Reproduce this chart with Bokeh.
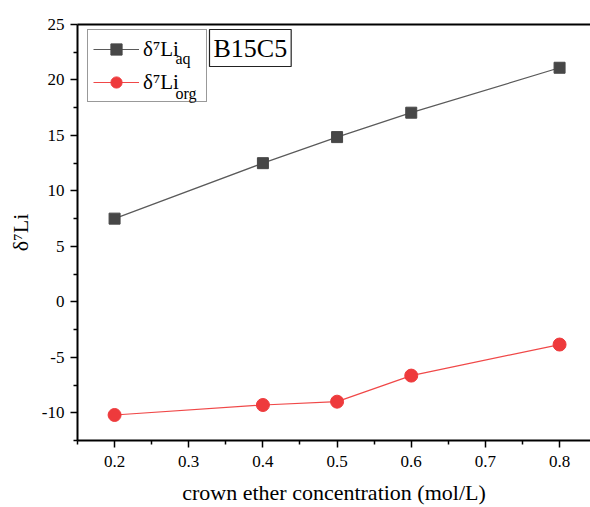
from bokeh.plotting import figure
from bokeh.models import Range1d, LinearAxis, FixedTicker, Legend, LegendItem, Label, PrintfTickFormatter
from bokeh.embed import file_html
from bokeh.resources import INLINE

# data
conc = [0.2, 0.4, 0.5, 0.6, 0.8]
li_aq = [7.5, 12.5, 14.85, 17.05, 21.1]
li_org = [-10.2, -9.3, -9.0, -6.65, -3.85]

x_major = [0.2, 0.3, 0.4, 0.5, 0.6, 0.7, 0.8]
x_minor = [0.15, 0.25, 0.35, 0.45, 0.55, 0.65, 0.75]
y_major = [-10, -5, 0, 5, 10, 15, 20, 25]
y_minor = [-12.5, -7.5, -2.5, 2.5, 7.5, 12.5, 17.5, 22.5]

FONT = "Liberation Serif"
AQ_LINE = "#5a5a5a"
AQ_FILL = "#474747"
ORG_LINE = "#f04848"
ORG_FILL = "#ee3a3c"

p = figure(width=590, height=507, output_backend="svg", toolbar_location=None,
           x_range=Range1d(0.15, 0.8417), y_range=Range1d(-12.5, 25),
           min_border_left=77, min_border_right=0, min_border_top=24, min_border_bottom=67)
p.outline_line_color = None
p.xgrid.visible = False
p.ygrid.visible = False
p.background_fill_color = "white"
p.border_fill_color = "white"

l1 = p.line(conc, li_aq, line_color=AQ_LINE, line_width=1.2)
s1 = p.scatter(conc, li_aq, marker="square", size=11, fill_color=AQ_FILL, line_color=AQ_FILL)
l2 = p.line(conc, li_org, line_color=ORG_LINE, line_width=1.2)
s2 = p.scatter(conc, li_org, marker="circle", size=13, fill_color=ORG_FILL, line_color=ORG_FILL)

for ax in (p.xaxis[0], p.yaxis[0]):
    ax.axis_line_width = 2
    ax.axis_line_color = "black"
    ax.major_tick_line_width = 1.5
    ax.minor_tick_line_width = 1.5
    ax.major_tick_line_color = "black"
    ax.minor_tick_line_color = "black"
    ax.major_tick_in = 0
    ax.major_tick_out = 7
    ax.minor_tick_in = 0
    ax.minor_tick_out = 4
    ax.major_label_text_font = FONT
    ax.major_label_text_font_size = "17px"
    ax.major_label_text_color = "black"
    ax.axis_label_text_font = FONT
    ax.axis_label_text_font_size = "22px"
    ax.axis_label_text_font_style = "normal"
    ax.axis_label_text_color = "black"

p.xaxis[0].ticker = FixedTicker(ticks=x_major, minor_ticks=x_minor)
p.yaxis[0].ticker = FixedTicker(ticks=y_major, minor_ticks=y_minor)
p.xaxis[0].formatter = PrintfTickFormatter(format="%.1f")
p.yaxis[0].formatter = PrintfTickFormatter(format="%d")
p.xaxis[0].axis_label = "crown ether concentration (mol/L)"
p.yaxis[0].axis_label = "δ⁷Li"
p.xaxis[0].major_label_standoff = 8
p.yaxis[0].major_label_standoff = 6
p.xaxis[0].axis_label_standoff = 10
p.yaxis[0].axis_label_standoff = 6

top = LinearAxis(ticker=FixedTicker(ticks=[]), axis_line_width=2, axis_line_color="black",
                 major_tick_line_color=None, minor_tick_line_color=None,
                 major_label_text_font_size="0px")
p.add_layout(top, "above")

legend = Legend(items=[LegendItem(label="δ⁷Li", renderers=[l1, s1]),
                       LegendItem(label="δ⁷Li", renderers=[l2, s2])],
                location=(10, 338), orientation="vertical",
                label_text_font=FONT, label_text_font_size="21px", label_text_color="black",
                glyph_width=46, glyph_height=28, label_height=28, label_width=58,
                label_standoff=4, padding=5, spacing=5, margin=0,
                border_line_color="#333333", border_line_width=1.2,
                background_fill_color="white", background_fill_alpha=0)
p.add_layout(legend, "center")

for txt, yy in (("aq", 382), ("org", 347)):
    p.add_layout(Label(x=98, y=yy, x_units="screen", y_units="screen", text=txt,
                       text_font=FONT, text_font_size="16px", text_color="black",
                       text_baseline="alphabetic", level="overlay"))

p.add_layout(Label(x=132, y=374, x_units="screen", y_units="screen", text="B15C5",
                   text_font=FONT, text_font_size="26px", text_color="black",
                   text_baseline="bottom", padding=4,
                   border_line_color="#222222", border_line_width=1.2,
                   background_fill_color="white"))

open("out.html", "w").write(file_html(p, INLINE))
